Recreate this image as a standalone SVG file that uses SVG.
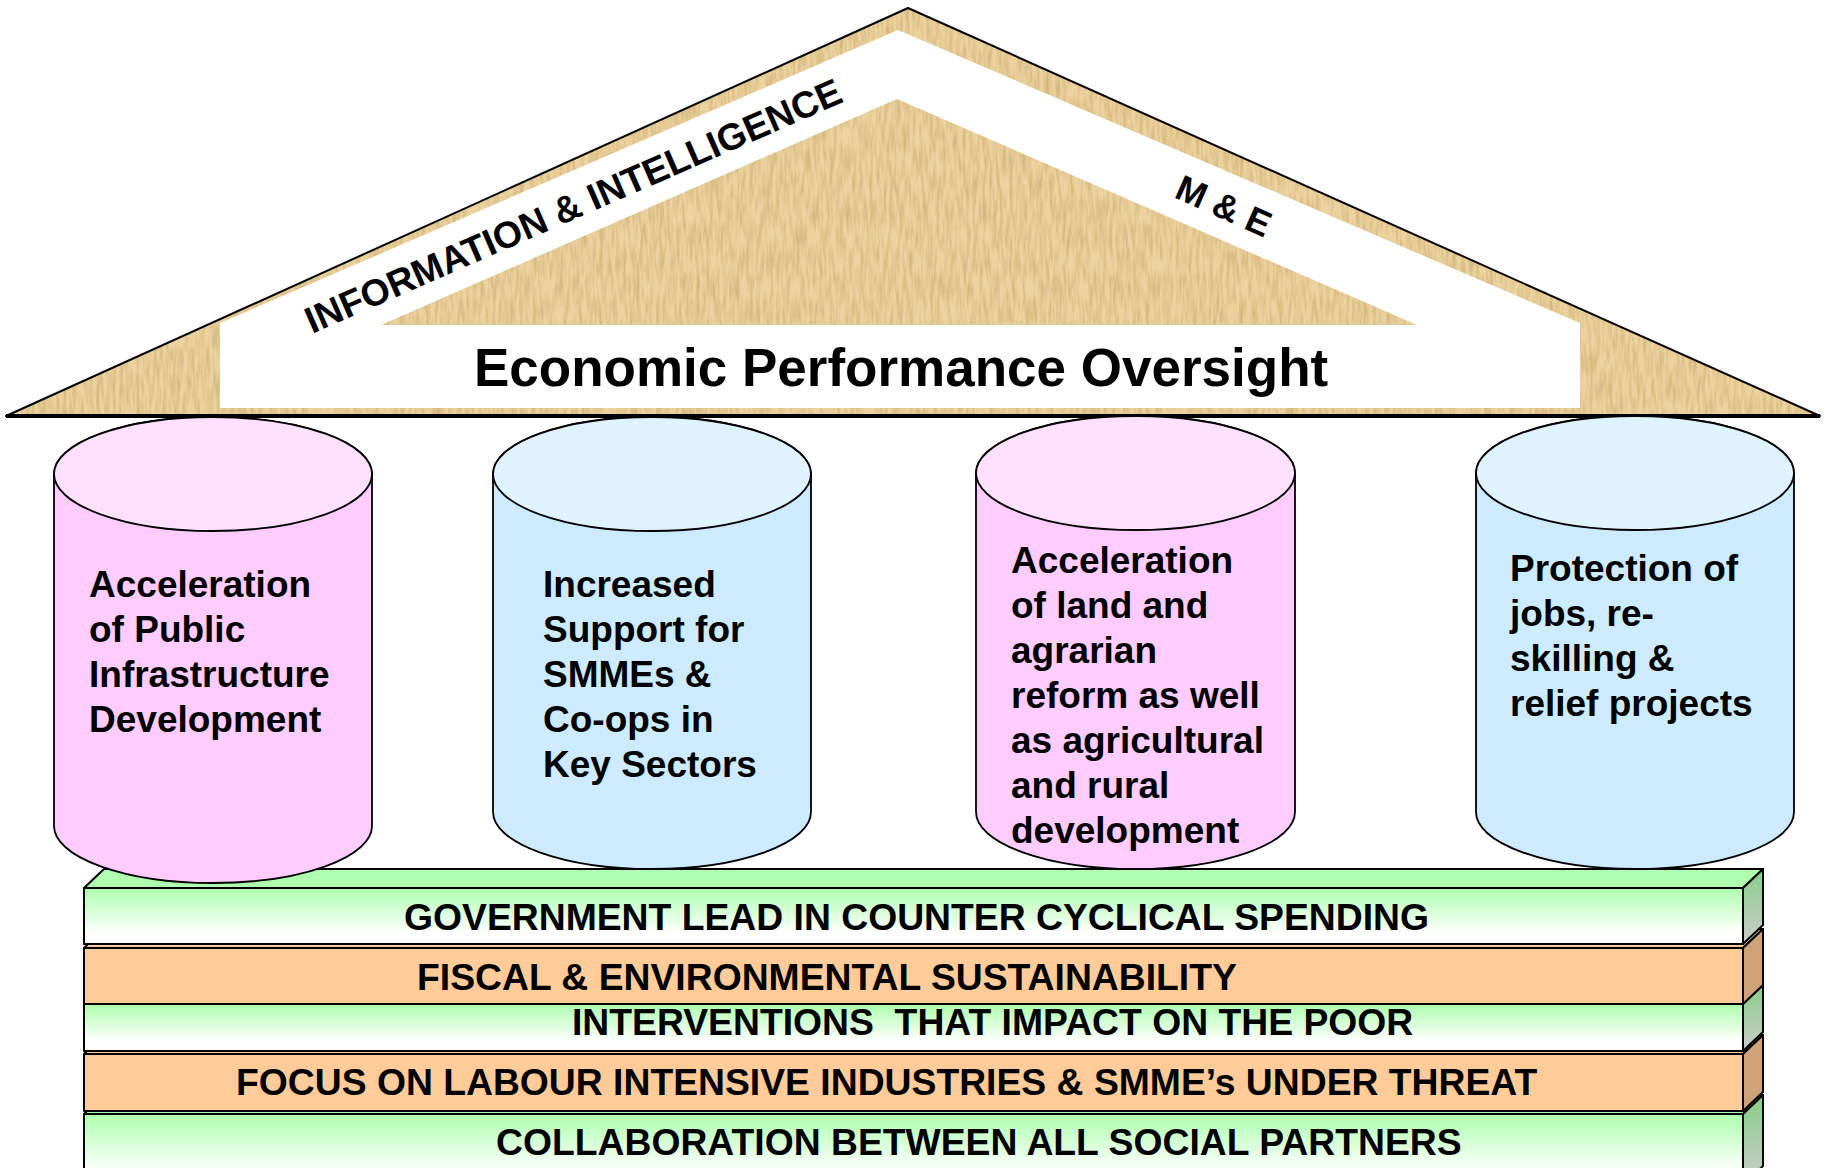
<svg xmlns="http://www.w3.org/2000/svg" width="1826" height="1168" viewBox="0 0 1826 1168">
<style>
  text { font-family: "Liberation Sans", Arial, sans-serif; font-weight: bold; fill: #000; }
  .t37 { font-size: 37px; }
  .slabtxt { font-size: 37.3px; }
  .edge { stroke: #000; stroke-width: 2; stroke-linejoin: round; }
  .cyl { stroke: #000; stroke-width: 1.8; }
  .pinkSide { fill: #FFCCFF; }
  .pinkTop { fill: #FFE0FF; }
  .blueSide { fill: #CCEBFF; }
  .blueTop { fill: #DFF3FF; }
  .tan { fill: #EBD29E; }
</style>
<defs>
  <filter id="grain" x="0" y="0" width="1" height="1" color-interpolation-filters="sRGB">
    <feTurbulence type="fractalNoise" baseFrequency="0.3 0.04" numOctaves="2" seed="7" result="n"/>
    <feColorMatrix in="n" type="matrix" values="0 0 0 0 0.72  0 0 0 0 0.58  0 0 0 0 0.32  1.0 0 0 0 -0.38" result="c"/>
    <feComposite in="c" in2="SourceGraphic" operator="in" result="t"/>
    <feMerge><feMergeNode in="SourceGraphic"/><feMergeNode in="t"/></feMerge>
  </filter>
  <linearGradient id="greenFront" x1="0" y1="0" x2="0" y2="1">
    <stop offset="0" stop-color="#ADFFAD"/>
    <stop offset="0.8" stop-color="#FFFFFF"/>
  </linearGradient>
  <linearGradient id="greenSide" x1="0" y1="0" x2="0" y2="1">
    <stop offset="0" stop-color="#86CE86"/>
    <stop offset="1" stop-color="#CCCCCC"/>
  </linearGradient>
</defs>

<!-- Roof -->
<g id="roof">
  <polygon class="tan" filter="url(#grain)" points="908,8 6,416 1820,416"/>
  <polygon fill="#FFFFFF" points="898,30 1580,323 1580,408 220,408 220,323"/>
  <polygon class="tan" filter="url(#grain)" points="897,99 381,325 1417,325"/>
  <polygon fill="none" class="edge" points="908,8 6,416 1820,416"/>
  <line x1="6" y1="416" x2="1820" y2="416" stroke="#000" stroke-width="4"/>
  <text font-size="37.3" transform="translate(312,334) rotate(-23.6)">INFORMATION &amp; INTELLIGENCE</text>
  <text font-size="36" transform="translate(1173,197) rotate(24)">M &amp; E</text>
  <text font-size="53" x="474" y="386">Economic Performance Oversight</text>
</g>

<!-- Slabs (drawn bottom first) -->
<g id="slab5">
  <polygon class="edge" fill="#ADFFAD" points="84,1114 104,1095 1763,1095 1743,1114"/>
  <polygon class="edge" fill="url(#greenSide)" points="1743,1114 1763,1095 1763,1166 1743,1185"/>
  <rect class="edge" fill="url(#greenFront)" x="84" y="1114" width="1659" height="71"/>
  <text class="slabtxt" x="496" y="1155">COLLABORATION BETWEEN ALL SOCIAL PARTNERS</text>
</g>
<g id="slab4">
  <polygon class="edge" fill="#FFCC99" points="84,1054 104,1035 1763,1035 1743,1054"/>
  <polygon class="edge" fill="#CFA27A" points="1743,1054 1763,1035 1763,1092 1743,1111"/>
  <rect class="edge" fill="#FFCC99" x="84" y="1054" width="1659" height="57"/>
  <text class="slabtxt" x="236" y="1095">FOCUS ON LABOUR INTENSIVE INDUSTRIES &amp; SMME’s UNDER THREAT</text>
</g>
<g id="slab3">
  <polygon class="edge" fill="#ADFFAD" points="84,1004 104,985 1763,985 1743,1004"/>
  <polygon class="edge" fill="url(#greenSide)" points="1743,1004 1763,985 1763,1032 1743,1051"/>
  <rect class="edge" fill="url(#greenFront)" x="84" y="1004" width="1659" height="47"/>
  <text class="slabtxt" x="572" y="1035" xml:space="preserve">INTERVENTIONS  THAT IMPACT ON THE POOR</text>
</g>
<g id="slab2">
  <polygon class="edge" fill="#FFCC99" points="84,948 104,929 1763,929 1743,948"/>
  <polygon class="edge" fill="#CFA27A" points="1743,948 1763,929 1763,985 1743,1004"/>
  <rect class="edge" fill="#FFCC99" x="84" y="948" width="1659" height="56"/>
  <text class="slabtxt" x="417" y="990">FISCAL &amp; ENVIRONMENTAL SUSTAINABILITY</text>
</g>
<g id="slab1">
  <polygon class="edge" fill="#B0FFB0" points="84,888 104,869 1763,869 1743,888"/>
  <polygon class="edge" fill="url(#greenSide)" points="1743,888 1763,869 1763,925 1743,944"/>
  <rect class="edge" fill="url(#greenFront)" x="84" y="888" width="1659" height="56"/>
  <text class="slabtxt" x="404" y="930">GOVERNMENT LEAD IN COUNTER CYCLICAL SPENDING</text>
</g>

<!-- Pillars -->
<g id="pillar1">
  <path class="cyl pinkSide" d="M54,474 V826 A159,57 0 0 0 372,826 V474 A159,57 0 0 0 54,474 Z"/>
  <ellipse class="cyl pinkTop" cx="213" cy="474" rx="159" ry="57"/>
  <text class="t37"><tspan x="89" y="597">Acceleration</tspan><tspan x="89" y="642">of Public</tspan><tspan x="89" y="687">Infrastructure</tspan><tspan x="89" y="732">Development</tspan></text>
</g>
<g id="pillar2">
  <path class="cyl blueSide" d="M493,474 V812 A159,57 0 0 0 811,812 V474 A159,57 0 0 0 493,474 Z"/>
  <ellipse class="cyl blueTop" cx="652" cy="474" rx="159" ry="57"/>
  <text class="t37"><tspan x="543" y="597">Increased</tspan><tspan x="543" y="642">Support for</tspan><tspan x="543" y="687">SMMEs &amp;</tspan><tspan x="543" y="732">Co-ops in</tspan><tspan x="543" y="777">Key Sectors</tspan></text>
</g>
<g id="pillar3">
  <path class="cyl pinkSide" d="M976,473 V812 A159.5,57 0 0 0 1295,812 V473 A159.5,57 0 0 0 976,473 Z"/>
  <ellipse class="cyl pinkTop" cx="1135.5" cy="473" rx="159.5" ry="57"/>
  <text class="t37"><tspan x="1011" y="573">Acceleration</tspan><tspan x="1011" y="618">of land and</tspan><tspan x="1011" y="663">agrarian</tspan><tspan x="1011" y="708">reform as well</tspan><tspan x="1011" y="753">as agricultural</tspan><tspan x="1011" y="798">and rural</tspan><tspan x="1011" y="843">development</tspan></text>
</g>
<g id="pillar4">
  <path class="cyl blueSide" d="M1476,473 V812 A159,57 0 0 0 1794,812 V473 A159,57 0 0 0 1476,473 Z"/>
  <ellipse class="cyl blueTop" cx="1635" cy="473" rx="159" ry="57"/>
  <text class="t37"><tspan x="1510" y="581">Protection of</tspan><tspan x="1510" y="626">jobs, re-</tspan><tspan x="1510" y="671">skilling &amp;</tspan><tspan x="1510" y="716">relief projects</tspan></text>
</g>

<g id="connectors"/>
</svg>
